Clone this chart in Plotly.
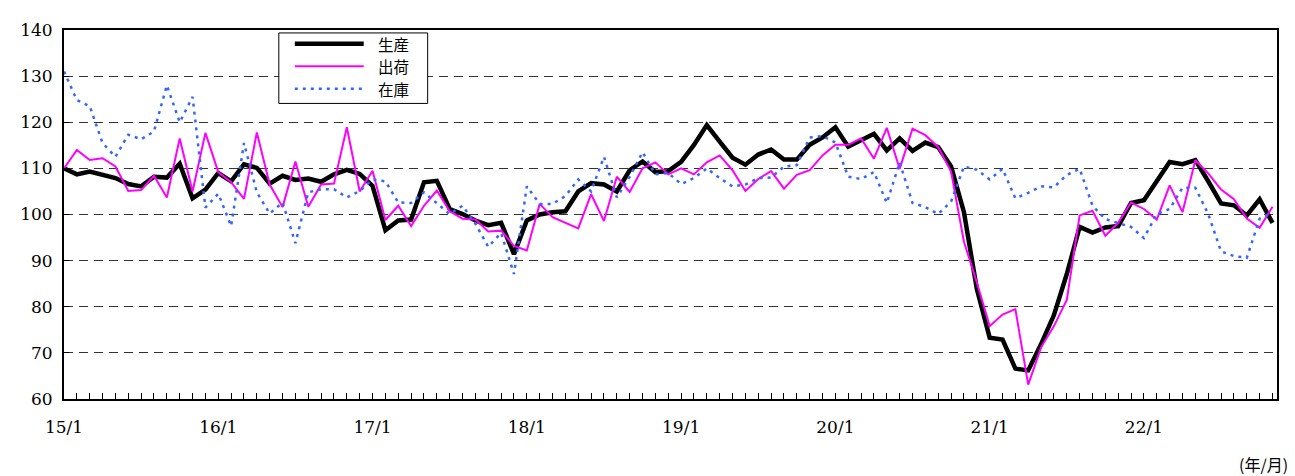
import plotly.graph_objects as go

# Monthly labels 2015/1 .. 2022/11
months = [f"{y}/{m}" for y in range(15, 23) for m in range(1, 13)][:95]

production = [
    110.0, 108.7, 109.3, 108.6, 107.9, 106.6, 106.1, 108.2, 108.0, 111.0, 103.5, 105.4,
    109.0, 107.2, 110.9, 110.1, 106.7, 108.4, 107.5, 107.8, 107.1, 108.7, 109.7, 108.8,
    106.2, 96.6, 98.7, 98.9, 107.0, 107.3, 101.2, 100.1, 98.7, 97.7, 98.2, 91.4,
    98.7, 100.0, 100.5, 100.7, 105.0, 106.8, 106.5, 105.0, 109.6, 111.5, 109.2, 109.4,
    111.4, 115.1, 119.4, 115.8, 112.3, 110.8, 113.0, 114.1, 111.9, 111.9, 115.1, 116.7,
    118.9, 114.7, 116.2, 117.5, 113.9, 116.5, 113.8, 115.6, 114.6, 110.4, 100.5, 83.9,
    73.3, 72.9, 66.6, 66.2, 71.9, 78.2, 87.1, 97.3, 96.1, 97.2, 97.5, 102.5,
    103.1, 107.2, 111.4, 110.9, 111.8, 107.2, 102.4, 102.0, 99.8, 103.3, 98.2,
]

shipments = [
    110.0, 114.0, 111.8, 112.2, 110.4, 105.1, 105.3, 108.4, 103.7, 116.5, 105.0, 117.7,
    109.2, 107.0, 103.4, 117.8, 106.5, 101.6, 111.5, 101.7, 106.5, 106.7, 118.9, 105.0,
    109.5, 98.8, 101.9, 97.5, 101.9, 105.2, 100.7, 99.1, 98.9, 96.3, 96.5, 93.2,
    92.2, 102.3, 99.4, 98.2, 97.0, 104.4, 98.6, 108.2, 104.9, 110.0, 111.3, 108.7,
    110.0, 108.7, 111.3, 112.8, 109.6, 105.1, 107.7, 109.4, 105.6, 108.6, 109.6, 112.8,
    115.1, 115.1, 116.5, 112.1, 118.8, 109.9, 118.6, 117.2, 114.6, 109.3, 94.1, 85.3,
    75.8, 78.3, 79.5, 63.1, 71.2, 75.8, 81.5, 99.8, 100.8, 95.4, 98.2, 102.6,
    101.2, 98.9, 106.3, 100.5, 111.8, 108.9, 105.4, 103.3, 99.1, 97.1, 101.7,
]

inventory = [
    131.0, 124.8, 123.5, 115.5, 112.5, 117.3, 116.3, 118.0, 128.0, 120.0, 125.5, 101.5,
    104.5, 97.5, 115.5, 104.8, 100.2, 102.6, 93.8, 104.8, 105.5, 105.5, 103.7, 105.1,
    107.6, 107.2, 102.6, 102.5, 104.8, 102.5, 100.1, 101.9, 98.0, 93.0, 96.0, 87.1,
    106.1, 102.3, 102.3, 104.0, 107.6, 105.0, 112.5, 103.7, 108.2, 113.5, 108.7, 109.0,
    106.6, 107.9, 110.0, 107.9, 106.1, 106.5, 107.9, 108.0, 110.4, 110.7, 116.7, 117.0,
    115.6, 108.2, 107.7, 109.2, 102.5, 111.3, 102.5, 101.6, 100.1, 102.8, 110.4, 109.7,
    107.6, 109.9, 103.5, 104.7, 106.1, 105.9, 108.6, 109.9, 101.9, 99.0, 98.2, 97.3,
    94.9, 100.1, 101.2, 105.8, 105.8, 100.1, 92.0, 91.0, 90.6, 99.1, 100.5,
]

series_names = ["生産", "出荷", "在庫"]
series_colors = ["black", "#FF00FF", "#3366FF"]
series_widths = [4.5, 2, 2.5]
series_dash = ["solid", "solid", "3px,5px"]
tick_text = [m if m.endswith("/1") else "" for m in months]

num_font = "DejaVu Serif, Liberation Serif, serif"
jp_font = "Noto Sans CJK JP, sans-serif"

fig = go.Figure()
for name, vals, col, w, d in zip(series_names, [production, shipments, inventory],
                                 series_colors, series_widths, series_dash):
    fig.add_trace(go.Scatter(x=months, y=vals, name=name, mode="lines",
                             line=dict(color=col, width=w, dash=d)))

# Hand-drawn legend (long line samples like the reference)
shapes = [dict(type="rect", xref="paper", yref="paper", x0=0.1771, x1=0.2998,
               y0=0.801, y1=0.992, line=dict(color="black", width=1),
               fillcolor="white", layer="above")]
annotations = []
row_y = [0.9629, 0.9019, 0.8408]
for name, col, w, d, ry in zip(series_names, series_colors, series_widths, series_dash, row_y):
    shapes.append(dict(type="line", xref="paper", yref="paper", x0=0.1903, x1=0.2471,
                       y0=ry, y1=ry, line=dict(color=col, width=w, dash=d), layer="above"))
    annotations.append(dict(text=name, x=0.2570, y=ry, xref="paper", yref="paper",
                            xanchor="left", yanchor="middle", showarrow=False,
                            font=dict(size=15.5, family=jp_font, color="black")))

annotations.append(dict(text="(年/月)", x=1.0107, y=-0.175, xref="paper", yref="paper",
                        xanchor="right", yanchor="middle", showarrow=False,
                        font=dict(size=16, family=jp_font, color="black")))

# Page body has an 8px margin: shrink figure and margins to keep plot area in place
fig.update_layout(
    width=1287, height=468,
    margin=dict(l=55, r=18, t=14, b=77),
    paper_bgcolor="white", plot_bgcolor="white",
    font=dict(family=num_font, size=16, color="black"),
    showlegend=False,
    shapes=shapes,
    annotations=annotations,
    xaxis=dict(type="category", categoryorder="array", categoryarray=months,
               range=[0, 94.35], tickmode="array", tickvals=months, ticktext=tick_text,
               ticks="inside", ticklen=6, tickcolor="black", tickwidth=1,
               showline=True, linecolor="black", linewidth=2, mirror=True,
               showgrid=False, zeroline=False,
               tickfont=dict(size=17, family=num_font), ticklabelstandoff=12),
    yaxis=dict(range=[60, 140], dtick=10, tick0=60,
               ticks="inside", ticklen=5, tickcolor="black",
               showline=True, linecolor="black", linewidth=2, mirror=True,
               showgrid=True, gridcolor="#333333", gridwidth=1, griddash="9px,6px",
               zeroline=False, tickfont=dict(size=17, family=num_font),
               ticklabelstandoff=6),
)

fig.write_html("out.html")
